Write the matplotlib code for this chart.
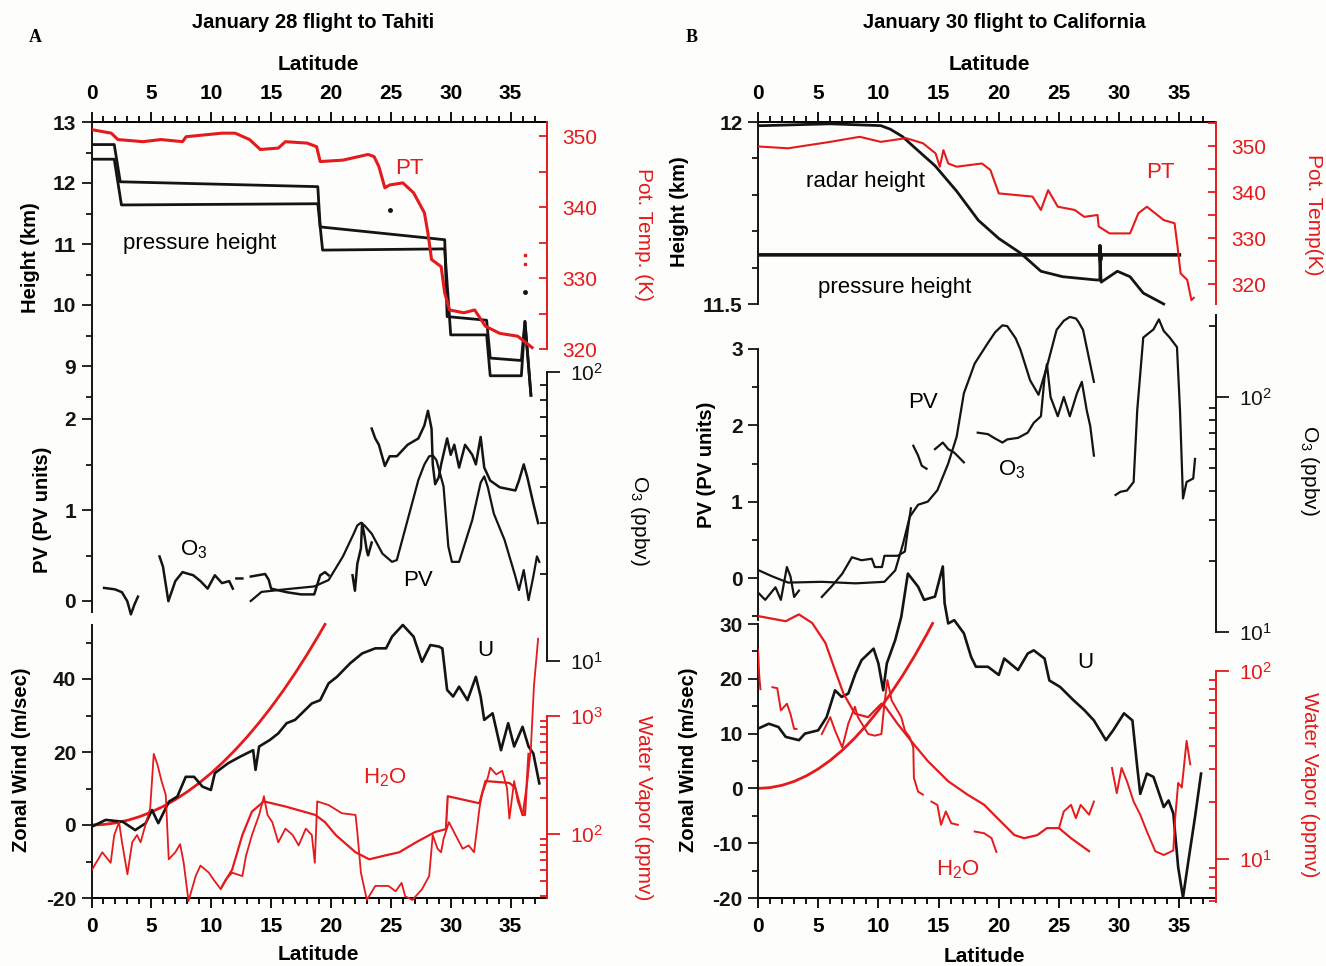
import numpy as np
import matplotlib
matplotlib.use('Agg')
import matplotlib.pyplot as plt
from matplotlib.ticker import FixedLocator, FixedFormatter, NullFormatter

nan = np.nan

# ---------------- DATA ----------------
# Panel A (January 28, Tahiti) -- top: heights (km) and potential temperature (K)
A_PT_lat = [0, 1.65, 2.2, 4.3, 5.8, 7.6, 7.9, 10.9, 12.0, 13.2, 14.1, 15.6, 16.2, 18.0, 18.8, 19.1,
            21.0, 23.1, 23.6, 24.0, 24.5, 24.9, 26.0, 26.9, 27.8, 28.1, 28.4, 29.2, 29.5, 29.9,
            31.1, 32.0, 32.9, 34.1, 35.6, 36.8]
A_PT = [350.9, 350.4, 349.5, 349.2, 349.5, 349.2, 349.9, 350.4, 350.4, 349.5, 348.1, 348.3, 349.2,
        349.0, 348.5, 346.4, 346.6, 347.4, 347.1, 345.7, 342.7, 343.1, 343.4, 342.0, 339.2, 336.3,
        332.6, 331.6, 327.9, 325.5, 325.1, 325.5, 323.2, 322.2, 321.8, 320.2]
A_PT_dot_lat = [36.2, 36.2]
A_PT_dot = [332.0, 333.2]
A_Z1_lat = [0, 1.9, 2.4, 18.9, 19.1, 29.5, 29.7, 33.0, 33.3, 35.9, 36.2, 36.7]
A_Z1 = [12.63, 12.63, 12.02, 11.94, 11.28, 11.07, 9.81, 9.75, 9.13, 9.09, 9.73, 8.52]
A_Z2_lat = [0, 1.9, 2.5, 18.9, 19.3, 29.5, 30.0, 33.0, 33.3, 35.9, 36.2, 36.7]
A_Z2 = [12.39, 12.39, 11.64, 11.66, 10.90, 10.92, 9.51, 9.51, 8.84, 8.84, 9.73, 8.52]
A_Z_dot_lat = [24.9, 36.2]
A_Z_dot = [11.55, 10.22]

# Panel A middle: PV (PV units) and O3 (ppbv)
A_PV_lat = [13.3, 14.2, 16.3, 18.6, 19.8, 21.0, 21.9, 22.2, 22.5, 22.8, 23.4, 24.3, 25.1, 25.5,
            26.4, 27.3, 27.8, 28.2, 28.5, 28.8, 29.4, 29.8, 30.1, 30.7, 31.8, 32.5, 32.8, 33.1,
            33.6, 34.5, 35.4, 35.7, 36.1, 36.5, 36.9, 37.2, 37.4]
A_PV = [0.0, 0.10, 0.13, 0.16, 0.23, 0.49, 0.74, 0.83, 0.86, 0.83, 0.74, 0.52, 0.43, 0.45, 0.89,
        1.33, 1.50, 1.59, 1.60, 1.55, 1.26, 0.60, 0.43, 0.43, 0.89, 1.30, 1.37, 1.25, 0.96, 0.67,
        0.27, 0.12, 0.34, 0.01, 0.27, 0.49, 0.43]
A_O3_lat = [1.05, 1.95, 2.54, 2.99, 3.29, 3.59, 3.88, nan,
            5.68, 5.97, 6.42, 7.0, 7.6, 8.5, 9.1, 9.7, 10.3, 10.9, 11.5, 11.8, nan,
            12.1, 12.6, nan,
            13.3, 14.5, 14.8, 15.0, 16.3, 17.5, 18.6, 19.1, 19.5, 19.8, nan,
            21.8, 22.0, 22.2, 22.5, 22.6, 22.8, 23.0, 23.1, 23.4, nan,
            23.4, 23.7, 24.0, 24.5, 24.9, 25.5, 26.4, 27.3, 27.8, 28.1, 28.4, 28.5, 28.7, 29.0,
            29.2, 29.7, 30.0, 30.3, 30.7, 31.2, 31.8, 32.1, 32.5, 32.8, 33.3, 34.1, 35.4, 35.7,
            36.1, 36.4, 36.9, 37.3]
A_O3 = [17.9, 17.7, 17.3, 16.1, 14.5, 15.7, 16.7, nan,
        23.0, 21.2, 16.1, 18.9, 20.3, 19.8, 18.9, 17.8, 19.8, 18.6, 18.9, 17.8, nan,
        19.3, 19.3, nan,
        19.6, 20.0, 19.1, 17.8, 17.3, 17.0, 17.0, 19.8, 20.3, 19.8, nan,
        19.8, 17.5, 21.7, 24.5, 30.0, 27.1, 24.0, 23.2, 25.7, nan,
        63.7, 58.9, 56.0, 47.3, 51.1, 51.1, 56.0, 58.9, 65.3, 73.4, 63.7, 47.9, 40.9, 43.2,
        47.9, 58.9, 51.7, 56.0, 46.7, 56.0, 51.7, 47.9, 59.6, 46.7, 42.1, 39.9, 38.9, 42.1,
        47.9, 43.2, 35.1, 30.0]

# Panel A bottom: zonal wind (m/s), angular-momentum wind (m/s) and water vapour (ppmv)
A_U_lat = [0, 1.19, 2.6, 3.65, 4.53, 5.05, 5.58, 6.47, 7.17, 7.87, 8.57, 9.27, 9.97, 10.3, 11.4,
           12.4, 13.5, 13.7, 14.0, 14.9, 15.6, 16.3, 17.0, 18.4, 19.1, 19.8, 20.5, 21.6, 22.6,
           23.7, 24.6, 25.1, 26.0, 26.9, 27.6, 28.3, 29.0, 29.3, 29.7, 30.2, 30.7, 31.4, 32.1,
           32.5, 32.8, 33.5, 34.2, 34.8, 35.3, 36.0, 36.5, 36.9, 37.4]
A_U = [-0.5, 1.4, 0.9, -1.4, 0.5, 4.1, 0.5, 6.4, 7.8, 13.2, 13.2, 10.5, 9.6, 14.2, 16.9, 18.7,
       20.5, 15.1, 21.5, 23.3, 25.1, 27.9, 28.8, 33.3, 34.2, 38.8, 40.6, 44.3, 47.0, 48.4, 48.4,
       51.6, 54.8, 51.6, 44.7, 49.3, 48.9, 48.4, 37.0, 35.2, 37.9, 34.2, 40.6, 35.2, 28.8, 30.6,
       20.5, 27.9, 21.5, 26.9, 21.5, 19.6, 11.4]
A_UM_lat = [0, 1, 2, 3, 4, 5, 6, 7, 8, 9, 10, 11, 12, 13, 14, 15, 16, 17, 18, 19, 19.5]
A_UM = [0, 0.14, 0.57, 1.28, 2.27, 3.55, 5.11, 6.96, 9.10, 11.52, 14.24, 17.25, 20.55, 24.15,
        28.05, 32.25, 36.75, 41.57, 46.69, 52.13, 54.97]
A_H2O_lat = [0.05, 0.9, 1.6, 1.9, 2.3, 2.55, 3.0, 3.4, 3.8, 4.1, 4.5, 4.9, 5.2, 5.5, 5.85, 6.2,
             6.45, 7.0, 7.4, 7.7, 8.1, 8.7, 9.1, 9.8, 10.2, 10.8, 11.2, 11.75, 12.6, 12.9, 13.4,
             14.0, 14.4, 14.7, 15.1, 15.6, 16.2, 16.8, 17.3, 17.9, 18.4, 18.65, 18.85, 19.8,
             20.9, 22.05, 22.2, 22.5, 23.0, 23.7, 24.8, 25.4, 25.9, 26.2, 26.8, 27.6, 28.2, 28.5,
             28.9, 29.2, 29.4, 29.85, 30.4, 31.0, 31.5, 31.95, 32.4, 32.6, 33.1, 33.3, 33.8,
             34.3, 34.7, 34.9, 35.3, 35.6, 36.0, 36.4, 36.7, 36.95, 37.3]
A_H2O = [50, 70, 57, 98, 126, 85, 45.6, 85, 98, 85, 119, 165, 477, 390, 281, 215, 61, 70, 82, 57,
         27, 44, 54, 47, 41, 34, 41, 47, 44, 65, 98, 145, 209, 145, 126, 85, 111, 98, 80, 111, 98,
         57, 189, 176, 150, 145, 104, 47, 27.6, 36.3, 36.3, 32.7, 38.5, 29.7, 27.6, 34, 44, 98,
         75, 70, 91, 126, 98, 75, 80, 70, 165, 215, 300, 365, 320, 343, 246, 135, 281, 189, 145,
         281, 543, 1790, 4520]
A_H2OM_lat = [10.9, 11.75, 12.6, 13.4, 14.4, 16.2, 18.7, 19.5, 20.4, 22.05, 23.2, 24.3, 25.7,
              27.1, 28.7, 29.6, 29.75, 32.4, 32.9, 34.9, 35.4, 36.0, 36.2, 36.5]
A_H2OM = [36, 50, 98, 155, 189, 171, 145, 126, 98, 70, 61, 65, 70, 85, 104, 110, 209, 182, 281,
          271, 246, 145, 145, 477]

# Panel B (January 30, California) -- top: heights (km) and potential temperature (K)
B_ZR_lat = [0, 0.4, 6.0, 10.2, 11.0, 12.0, 13.0, 14.7, 16.5, 18.3, 20.0, 21.8, 23.5, 25.3, 28.1,
            28.4, 28.4, 28.5, 29.85, 30.9, 32.0, 33.7]
B_ZR = [11.99, 11.99, 11.995, 11.99, 11.98, 11.96, 11.93, 11.88, 11.81, 11.73, 11.68, 11.64,
        11.59, 11.575, 11.566, 11.566, 11.63, 11.56, 11.59, 11.575, 11.53, 11.50]
B_ZP_lat = [0, 28.4, 28.4, 28.45, 28.5, 35.0]
B_ZP = [11.635, 11.635, 11.66, 11.62, 11.635, 11.635]
B_PT_lat = [0, 2.5, 6.0, 8.45, 10.2, 12.3, 13.7, 14.75, 15.1, 15.4, 15.8, 16.5, 18.6, 19.3, 20.0,
            22.8, 23.5, 24.1, 24.9, 26.3, 27.1, 28.2, 28.3, 29.2, 30.9, 31.6, 32.3, 33.7, 34.6,
            34.85, 35.1, 35.65, 36.0, 36.2]
B_PT = [349.9, 349.5, 350.9, 352.0, 350.9, 351.7, 350.6, 348.4, 345.5, 349.1, 346.2, 345.5,
        346.2, 344.8, 339.7, 339.0, 336.1, 340.4, 336.8, 336.1, 334.6, 335.0, 332.5, 331.0,
        331.0, 335.4, 336.8, 333.9, 333.2, 328.1, 322.3, 320.9, 316.5, 317.0]

# Panel B middle: PV and O3
B_PV_lat = [0.07, 1.2, 2.5, 5.3, 8.1, 10.5, 11.4, 12.05, 12.6, 13.3, 14.1, 14.9, 15.8, 16.5,
            17.1, 18.0, 19.1, 19.7, 20.3, 20.7, 21.4, 21.8, 22.6, 23.3, 24.0, 24.8, 25.4, 25.9,
            26.4, 26.6, 27.0, 27.9]
B_PV = [0.10, 0.02, -0.06, -0.05, -0.07, -0.05, 0.10, 0.45, 0.80, 0.96, 1.00, 1.15, 1.50, 1.85,
        2.42, 2.81, 3.08, 3.22, 3.31, 3.30, 3.14, 2.99, 2.59, 2.40, 2.77, 3.25, 3.37, 3.42, 3.40,
        3.36, 3.25, 2.57]
B_O3_lat = [0.07, 0.6, 1.45, 1.9, 2.4, 2.7, 3.0, 3.4, nan,
            5.3, 6.1, 7.0, 7.8, 8.6, 9.45, 9.7, 10.3, 10.5, 11.6, 12.2, 12.5, 12.7, nan,
            12.9, 13.3, 13.6, 14.0, nan,
            14.7, 15.35, 15.8, 16.3, 17.1, nan,
            18.25, 19.1, 19.6, 20.3, 20.7, 21.6, 22.4, 22.9, 23.5, 23.8, 24.0, 24.3, 24.9, 25.4,
            25.9, 26.5, 26.9, 27.3, 27.6, 27.9, nan,
            29.7, 30.1, 30.65, 31.2, 31.5, 32.0, 32.85, 33.3, 33.7, 34.2, 34.8, 35.05, 35.3, 35.6,
            36.15, 36.3]
B_O3 = [14.6, 13.7, 15.5, 13.7, 18.9, 17.2, 14.1, 15.0, nan,
        14.1, 15.6, 17.7, 20.8, 20.2, 20.5, 18.9, 18.9, 21.1, 21.1, 22.0, 28.6, 33.6, nan,
        62, 56.3, 51, 49.5, nan,
        60, 64, 60, 58, 52.7, nan,
        70.5, 69.5, 67, 64, 66, 67, 70.5, 77.6, 82.8, 121, 138, 100, 82.8, 100, 82.8, 104, 116,
        88, 75, 56.3, nan,
        38.3, 39.5, 40, 43.5, 88, 179, 194, 214, 191, 179, 163, 88, 37, 43.5, 45, 54.5]

# Panel B bottom: zonal wind, angular-momentum wind, water vapour
B_U_lat = [0, 0.9, 1.7, 2.3, 3.4, 3.9, 5.0, 5.7, 6.4, 6.95, 7.5, 8.1, 8.6, 9.6, 10.0, 10.4, 10.7,
           11.4, 11.9, 12.45, 13.3, 13.8, 14.7, 15.35, 15.5, 15.8, 16.3, 17.1, 17.7, 18.1, 19.1,
           20.0, 20.45, 21.6, 22.4, 22.9, 23.8, 24.2, 25.1, 26.2, 27.1, 27.9, 28.9, 29.5, 30.4,
           31.1, 31.5, 31.75, 32.3, 32.85, 33.7, 34.1, 34.5, 34.9, 35.3, 35.75, 36.3, 36.8]
B_U = [10.9, 11.8, 11.2, 9.4, 8.8, 10.0, 10.6, 13.0, 17.9, 16.7, 17.3, 21.0, 23.4, 25.5, 22.8,
       17.9, 22.8, 27.1, 31.3, 39.2, 36.8, 34.4, 35.0, 40.5, 33.8, 30.1, 30.7, 28.3, 24.0, 22.2,
       22.2, 20.7, 23.7, 21.6, 24.6, 25.2, 23.7, 19.7, 18.5, 16.1, 14.3, 12.4, 8.8, 10.6, 13.7,
       12.4, 3.9, -1.0, 2.7, 2.1, -3.4, -2.2, -4.6, -14.4, -19.9, -13.2, -5.2, 2.7]
B_UM_lat = [0, 1, 2, 3, 4, 5, 6, 7, 8, 9, 10, 11, 12, 13, 14, 14.5]
B_UM = [0, 0.14, 0.57, 1.28, 2.27, 3.55, 5.11, 6.96, 9.10, 11.52, 14.24, 17.25, 20.55, 24.15,
        28.05, 30.1]
B_H2O_lat = [0.0, 0.1, 0.2, nan,
             1.2, 1.6, 1.9, 2.4, 2.7, 3.0, 3.2, nan,
             5.3, 6.0, 6.4, 7.0, 7.5, 8.05, 8.3, 9.15, 9.7, 10.25, 10.5, 10.75, 11.1, 11.9, 12.2,
             12.6, 12.9, 12.95, 13.3, 13.7, nan,
             14.4, 14.9, 15.2, 15.6, 16.05, 16.6, nan,
             18.0, 18.8, 19.4, 19.8, nan,
             25.0, 25.4, 26.0, 26.4, 26.8, 27.5, 27.9, nan,
             29.4, 29.8, 30.2, 30.65, 31.2, 31.75, 32.3, 33.0, 33.7, 34.5, 34.65, 34.9, 35.2,
             35.6, 35.9]
B_H2O = [130, 95, 80, nan,
         82, 81, 61.7, 67, 59, 49.2, 49.2, nan,
         46.2, 56.8, 48.2, 39.2, 52.5, 64.5, 56.8, 46.2, 45.3, 46.2, 67, 89.5, 69.8, 56.8, 48.2,
         44.4, 39.2, 27, 22.8, 22.0, nan,
         20.2, 19.4, 15.2, 17.9, 15.5, 15.2, nan,
         14.0, 13.7, 12.9, 10.9, nan,
         14.6, 17.9, 19.4, 16.5, 19.4, 17.2, 20.2, nan,
         30.5, 22.4, 30.5, 25.9, 20.2, 17.2, 14.0, 11.0, 10.5, 11.1, 16.5, 25.4, 24, 42.5, 31.9]
B_H2OM_lat = [0, 2.3, 3.4, 4.5, 5.6, 6.4, 7.1, 8.05, 9.15, 10.25, 10.6, 11.6, 12.7, 14.1, 15.8,
              17.4, 18.8, 19.6, 21.3, 22.1, 23.2, 24.0, 25.0, 26.0, 27.5]
B_H2OM = [196, 184, 200, 180, 141, 101, 75.8, 59.3, 56.8, 67, 64.3, 52.3, 42.6, 33.2, 25.9, 22,
          19.4, 17.2, 13.4, 12.9, 13.4, 14.6, 14.6, 12.9, 11.0]

LAT_MAJOR = [0, 5, 10, 15, 20, 25, 30, 35]
LAT_LABELS = ['0', '5', '10', '15', '20', '25', '30', '35']

# ---------------- FIGURE ----------------
plt.rcParams['font.family'] = ['Liberation Sans', 'DejaVu Sans']
plt.rcParams['font.weight'] = 'bold'
plt.rcParams['mathtext.default'] = 'regular'

W, H = 1326, 966
fig = plt.figure(figsize=(W / 100, H / 100), dpi=100)
fig.patch.set_facecolor('#fdfdfb')

RED = '#e41a1c'
BLK = '#141414'
XMAX = 38.0
XL = {'A': 91.5, 'B': 758.0}
XR = {'A': 546.5, 'B': 1215.5}
YT, YB = 60, 950


def lim_from(ref1, ref2, log=False):
    (v1, p1), (v2, p2) = ref1, ref2
    if log:
        v1, v2 = np.log10(v1), np.log10(v2)
    s = (v2 - v1) / (p2 - p1)
    top = v1 + (YT - p1) * s
    bot = v1 + (YB - p1) * s
    if log:
        return 10 ** bot, 10 ** top
    return bot, top


def make_ax(col, ref1, ref2, log=False):
    x0, x1 = XL[col], XR[col]
    ax = fig.add_axes([x0 / W, 1 - YB / H, (x1 - x0) / W, (YB - YT) / H])
    ax.patch.set_visible(False)
    if log:
        ax.set_yscale('log')
    ax.set_xlim(0, XMAX)
    ax.set_ylim(*lim_from(ref1, ref2, log))
    for s in ax.spines.values():
        s.set_visible(False)
    ax.tick_params(axis='both', which='both', left=False, right=False, bottom=False, top=False,
                   labelleft=False, labelright=False, labelbottom=False, labeltop=False)
    return ax


def yaxis(ax, side, lo, hi, major, labels, minor, color=BLK, dmaj='out', dmin='out', pad=4,
          bold=True, lmaj=7, lmin=4):
    sp = ax.spines[side]
    sp.set_visible(True)
    sp.set_bounds(lo, hi)
    sp.set_color(color)
    sp.set_linewidth(1.4)
    ax.yaxis.set_major_locator(FixedLocator(major))
    ax.yaxis.set_major_formatter(FixedFormatter(labels))
    ax.yaxis.set_minor_locator(FixedLocator(minor))
    ax.yaxis.set_minor_formatter(NullFormatter())
    on = side == 'left'
    ax.tick_params(axis='y', which='both', left=on, labelleft=on, right=not on,
                   labelright=not on, color=color, labelcolor=color, labelsize=15, width=1.3)
    ax.tick_params(axis='y', which='major', direction=dmaj, length=lmaj, pad=pad)
    ax.tick_params(axis='y', which='minor', direction=dmin, length=lmin)
    for t in ax.get_yticklabels():
        t.set_fontweight('bold' if bold else 'normal')


def xframe(col, ytop, ybot, top):
    x0, x1 = XL[col], XR[col]
    ax = fig.add_axes([x0 / W, 1 - ybot / H, (x1 - x0) / W, (ybot - ytop) / H])
    ax.patch.set_visible(False)
    ax.set_xlim(0, XMAX)
    for s in ax.spines.values():
        s.set_visible(False)
    side = 'top' if top else 'bottom'
    ax.spines[side].set_visible(True)
    ax.spines[side].set_linewidth(1.4)
    ax.xaxis.set_major_locator(FixedLocator(LAT_MAJOR))
    ax.xaxis.set_major_formatter(FixedFormatter(LAT_LABELS))
    ax.xaxis.set_minor_locator(FixedLocator(list(range(0, 38))))
    ax.tick_params(axis='y', left=False, labelleft=False)
    ax.tick_params(axis='x', which='both', top=top, labeltop=top, bottom=not top,
                   labelbottom=not top, direction='out', labelsize=15, width=1.3)
    ax.tick_params(axis='x', which='major', length=7, pad=7)
    ax.tick_params(axis='x', which='minor', length=4)
    return ax


def ftext(x, y, s, **kw):
    kw.setdefault('ha', 'center')
    kw.setdefault('va', 'center')
    fig.text(x / W, 1 - y / H, s, **kw)


# ---- x frames ----
for c in ('A', 'B'):
    xframe(c, 122, 300, True)
    xframe(c, 700, 898, False)

# ================= Column A =================
axZ = make_ax('A', (13, 122), (9, 366))
axZ.plot(A_Z1_lat, A_Z1, color=BLK, lw=2.0)
axZ.plot(A_Z2_lat, A_Z2, color=BLK, lw=2.0)
axZ.plot(A_Z_dot_lat, A_Z_dot, 'o', color=BLK, ms=2.5)
yaxis(axZ, 'left', 8.52, 13, [9, 10, 11, 12, 13], ['9', '10', '11', '12', '13'],
      [8.5, 9.5, 10.5, 11.5, 12.5])

axT = make_ax('A', (350, 136), (320, 349))
axT.plot(A_PT_lat, A_PT, color=RED, lw=2.2)
axT.plot(A_PT_dot_lat, A_PT_dot, 's', color=RED, ms=1.8)
yaxis(axT, 'right', 320, 352, [320, 330, 340, 350], ['320', '330', '340', '350'],
      [325, 335, 345], color=RED, dmaj='in', dmin='in', pad=11, bold=False, lmaj=6, lmin=6)

axPV = make_ax('A', (2, 419), (0, 601))
axPV.plot(A_PV_lat, A_PV, color=BLK, lw=1.6)
yaxis(axPV, 'left', -0.12, 2.25, [0, 1, 2], ['0', '1', '2'], [0.5, 1.5])

axO = make_ax('A', (100, 372), (10, 661), log=True)
axO.plot(A_O3_lat, A_O3, color=BLK, lw=1.8)
yaxis(axO, 'right', 10, 100, [10, 100], ['10$^1$', '10$^2$'],
      [20, 30, 40, 50, 60, 70, 80, 90], dmaj='out', dmin='in', pad=8, bold=False,
      lmaj=9, lmin=5)

axU = make_ax('A', (40, 679), (-20, 898))
axU.plot(A_UM_lat, A_UM, color=RED, lw=2.0)
axU.plot(A_U_lat, A_U, color=BLK, lw=1.9)
yaxis(axU, 'left', -20, 54.8, [-20, 0, 20, 40], ['-20', '0', '20', '40'], [-10, 10, 30, 50])

axW = make_ax('A', (1000, 716), (100, 834), log=True)
axW.plot(A_H2O_lat, A_H2O, color=RED, lw=1.3)
axW.plot(A_H2OM_lat, A_H2OM, color=RED, lw=1.6)
yaxis(axW, 'right', 28.7, 1000, [100, 1000], ['10$^2$', '10$^3$'],
      [30, 40, 50, 60, 70, 80, 90, 200, 300, 400, 500, 600, 700, 800, 900],
      color=RED, dmaj='out', dmin='in', pad=8, bold=False, lmaj=9, lmin=5)

# ================= Column B =================
bZ = make_ax('B', (12, 122), (11.5, 304))
bZ.plot(B_ZR_lat, B_ZR, color=BLK, lw=2.0)
bZ.plot(B_ZP_lat, B_ZP, color=BLK, lw=2.6)
yaxis(bZ, 'left', 11.5, 12, [11.5, 12], ['11.5', '12'], [11.6, 11.7, 11.8, 11.9])

bT = make_ax('B', (350, 146), (320, 284))
bT.plot(B_PT_lat, B_PT, color=RED, lw=1.5)
yaxis(bT, 'right', 315.6, 355.2, [320, 330, 340, 350], ['320', '330', '340', '350'],
      [325, 335, 345, 355], color=RED, dmaj='in', dmin='in', pad=11, bold=False,
      lmaj=6, lmin=6)

bPV = make_ax('B', (3, 349), (0, 578))
bPV.plot(B_PV_lat, B_PV, color=BLK, lw=1.6)
yaxis(bPV, 'left', -0.55, 3.0, [0, 1, 2, 3], ['0', '1', '2', '3'], [-0.5, 0.5, 1.5, 2.5])

bO = make_ax('B', (100, 397), (10, 632), log=True)
bO.plot(B_O3_lat, B_O3, color=BLK, lw=1.6)
yaxis(bO, 'right', 10, 223, [10, 100], ['10$^1$', '10$^2$'],
      [20, 30, 40, 50, 60, 70, 80, 90, 200], dmaj='out', dmin='in', pad=8, bold=False,
      lmaj=9, lmin=5)

bU = make_ax('B', (30, 624), (-20, 898))
bU.plot(B_UM_lat, B_UM, color=RED, lw=2.0)
bU.plot(B_U_lat, B_U, color=BLK, lw=1.9)
yaxis(bU, 'left', -20, 30, [-20, -10, 0, 10, 20, 30], ['-20', '-10', '0', '10', '20', '30'],
      [-15, -5, 5, 15, 25])

bW = make_ax('B', (100, 671), (10, 859), log=True)
bW.plot(B_H2O_lat, B_H2O, color=RED, lw=1.4)
bW.plot(B_H2OM_lat, B_H2OM, color=RED, lw=1.6)
yaxis(bW, 'right', 5.9, 100, [10, 100], ['10$^1$', '10$^2$'],
      [6, 7, 8, 9, 20, 30, 40, 50, 60, 70, 80, 90],
      color=RED, dmaj='out', dmin='in', pad=8, bold=False, lmaj=9, lmin=5)

# ---------------- TEXT ----------------
ftext(35, 37, 'A', family=['Liberation Serif', 'DejaVu Serif'], fontsize=13, weight='bold')
ftext(692, 38, 'B', family=['Liberation Serif', 'DejaVu Serif'], fontsize=13, weight='bold')
ftext(313, 22, 'January 28 flight to Tahiti', fontsize=14.5)
ftext(1004, 22, 'January 30 flight to California', fontsize=14.5)
for x, y in [(318, 64), (318, 955), (989, 64), (984, 957)]:
    ftext(x, y, 'Latitude', fontsize=15)

ftext(30, 258, 'Height (km)', rotation=90, fontsize=14.5)
ftext(42, 510, 'PV (PV units)', rotation=90, fontsize=14.5)
ftext(22, 760, 'Zonal Wind (m/sec)', rotation=90, fontsize=14.5)
ftext(643, 235, 'Pot. Temp. (K)', rotation=-90, fontsize=15, color=RED, weight='normal')
ftext(640, 520, 'O$_3$ (ppbv)', rotation=-90, fontsize=15, weight='normal')
ftext(643, 808, 'Water Vapor (ppmv)', rotation=-90, fontsize=15, color=RED, weight='normal')

ftext(680, 212, 'Height (km)', rotation=90, fontsize=14.5)
ftext(707, 465, 'PV (PV units)', rotation=90, fontsize=14.5)
ftext(688, 760, 'Zonal Wind (m/sec)', rotation=90, fontsize=14.5)
ftext(1313, 215, 'Pot. Temp(K)', rotation=-90, fontsize=15, color=RED, weight='normal')
ftext(1310, 470, 'O$_3$ (ppbv)', rotation=-90, fontsize=15, weight='normal')
ftext(1310, 785, 'Water Vapor (ppmv)', rotation=-90, fontsize=15, color=RED, weight='normal')

ann = dict(fontsize=16, weight='normal')
ftext(409, 168, 'PT', color=RED, **ann)
ftext(200, 243, 'pressure height', **ann)
ftext(194, 550, 'O$_3$', **ann)
ftext(418, 580, 'PV', **ann)
ftext(485, 650, 'U', **ann)
ftext(385, 778, 'H$_2$O', color=RED, **ann)

ftext(865, 182, 'radar height', **ann)
ftext(895, 288, 'pressure height', **ann)
ftext(1160, 173, 'PT', color=RED, **ann)
ftext(923, 402, 'PV', **ann)
ftext(1012, 470, 'O$_3$', **ann)
ftext(1085, 662, 'U', **ann)
ftext(958, 870, 'H$_2$O', color=RED, **ann)

fig.savefig('out.png', dpi=100, facecolor=fig.get_facecolor())
